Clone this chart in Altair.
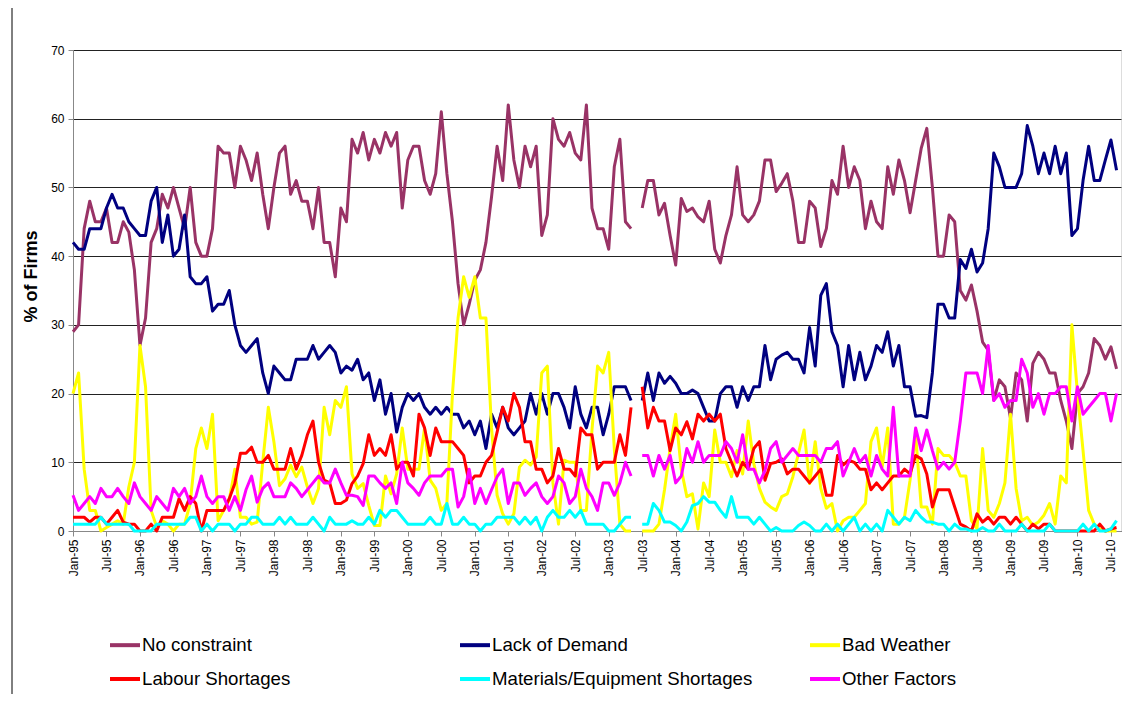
import json
import altair as alt
import pandas as pd

NAMES = ["No constraint", "Lack of Demand", "Bad Weather",
         "Labour Shortages", "Materials/Equipment Shortages", "Other Factors"]
COLORS = ["#993366", "#000080", "#FFFF00", "#FF0000", "#00FFFF", "#FF00FF"]

TICK_LABELS = ["Jan-95", "Jul-95", "Jan-96", "Jul-96", "Jan-97", "Jul-97", "Jan-98", "Jul-98",
               "Jan-99", "Jul-99", "Jan-00", "Jul-00", "Jan-01", "Jul-01", "Jan-02", "Jul-02",
               "Jan-03", "Jul-03", "Jan-04", "Jul-04", "Jan-05", "Jul-05", "Jan-06", "Jul-06",
               "Jan-07", "Jul-07", "Jan-08", "Jul-08", "Jan-09", "Jul-09", "Jan-10", "Jul-10"]

MONTH_NAMES = ["Jan", "Feb", "Mar", "Apr", "May", "Jun", "Jul", "Aug", "Sep", "Oct", "Nov", "Dec"]
MONTHS = [f"{MONTH_NAMES[i % 12]}-{(95 + i // 12) % 100:02d}" for i in range(188)]  # Jan-95 .. Aug-10

N = None  # Jun-03 not surveyed

no_constraint = [
    29, 30, 44, 48, 45, 45, 47, 42, 42, 45, 43.5, 38, 27, 31, 42, 44, 49, 47, 50, 47, 44, 50, 42,
    40, 40, 44, 56, 55, 55, 50, 56, 54, 51, 55, 49, 44, 50, 55, 56, 49, 51, 48, 48, 44, 50, 42,
    42, 37, 47, 45, 57, 55, 58, 54, 57, 55, 58, 56, 58, 47, 54, 56, 56, 51, 49, 52, 61, 52, 45, 36,
    30, 33, 36.5, 38, 42, 48.6, 56, 51, 62, 54, 50, 56, 53, 56, 43, 46, 60, 57, 56, 58, 55, 54, 62,
    47, 44, 44, 41, 53, 57, 45, 44, N,
    47, 51, 51, 46, 47.7, 43, 38.7, 48.4, 46.5, 47, 45.7, 45, 48, 41,
    39, 43, 46, 53, 46, 45, 46, 48, 54, 54, 49.4, 50.6, 52, 48, 42, 42, 48, 47, 41.4, 44, 51, 49, 56, 50,
    53, 51, 44, 48, 45, 44, 53, 49, 54, 51, 46.3, 51, 55.7, 58.6, 50, 40, 40, 46, 45, 35, 33.6, 35.8, 32,
    27.5, 26.3, 19, 22, 21, 16.4, 23, 22, 16, 24.4, 26, 25, 23, 23, 19, 16, 12, 20, 21, 23, 28, 27, 25, 26.8, 23.6,
]
lack_of_demand = [
    42, 41, 41, 44, 44, 44, 47, 49, 47, 47, 45, 44, 43, 43, 48, 50, 42, 46, 40, 41, 46, 37, 36,
    36, 37, 32, 33, 33, 35, 30, 27, 26, 27, 28, 23, 20, 24, 23, 22, 22, 25, 25, 25, 27, 25, 26,
    27, 26, 23, 24, 23.4, 25, 22, 23, 19, 22, 17, 20, 14.4, 18, 20, 19, 20, 18, 17, 18, 17, 18, 17, 17,
    15, 16, 14, 16, 12, 17, 15, 18, 15, 14, 15, 16, 20, 17, 20, 17, 20, 20, 18, 15, 21, 17, 15,
    18, 18, 14, 17, 21, 21, 21, 19, N,
    19, 23, 19, 23, 21.5, 22.5, 21.5, 20, 20, 20.5, 20, 18, 16, 16,
    20, 21, 21, 18, 21, 19, 21, 21, 27, 22, 25, 25.6, 26, 25, 25, 23, 29.6, 24, 34.3, 36, 29, 27, 21, 27,
    22, 26, 22, 24, 27, 26, 29, 24, 27, 21, 21, 16.7, 16.8, 16.5, 23, 33, 33, 31, 31, 39.5, 38.2, 41, 37.7,
    39, 44, 55, 53, 50, 50, 50, 52, 59, 56, 52, 55, 52, 56, 52, 55, 43, 44, 51, 56, 51, 51, 54, 56.9, 52.5,
]
bad_weather = [
    20, 23, 9, 3, 3, 0, 0.5, 1, 1.5, 1, 6.4, 10, 27, 21, 3, 0.6, 1.5, 1, 0, 1, 1, 4, 12,
    15, 12, 17, 1.5, 3, 4.5, 9, 2, 2, 1, 1.3, 10, 18, 13, 6.6, 7.6, 9.6, 7.9, 9.3, 6.4, 4, 6.2, 18,
    14, 19, 18, 21, 8.3, 6.2, 6.9, 3.7, 0.8, 0.8, 8, 5.4, 8.3, 15, 9, 9, 9, 15, 7.4, 6.2, 3, 4, 20, 31,
    37, 34, 37, 31, 31, 15, 5.2, 2.5, 1, 2.5, 9.3, 10.3, 9.6, 10.8, 23, 24, 7, 1, 10.3, 10, 10, 3, 3,
    14.7, 24, 23, 26, 12, 1, 0, 0, N,
    0, 0, 0, 1, 6, 12, 17, 9, 5, 5.4, 0.3, 7, 5, 14.7,
    10, 10, 7.9, 11.7, 8.3, 16, 9.8, 6.2, 4.2, 3.5, 3, 5, 5.4, 7.9, 11.3, 14.7, 6.9, 13, 6.2, 3.3, 4, 0, 1.5, 2,
    2, 3, 4, 13, 15, 9.3, 15, 1, 1, 2, 7.4, 14, 3.5, 3.5, 1, 12, 11, 11, 10, 8, 8, 1.5, 0.3,
    12, 3, 2, 4, 7, 17, 6.2, 1.5, 2, 0.8, 1.3, 2.3, 4, 1, 8, 7, 30, 20, 11.7, 3, 1, 0.3, 0, 0, 0,
]
labour_shortages = [
    2, 2, 2, 1.3, 2, 2, 1, 2, 3, 1.3, 1, 1, 0, 0, 1, 0, 2, 2, 2, 4.7, 3, 5, 4,
    0, 3, 3, 3, 3, 4.7, 6.9, 11.3, 11.3, 12.2, 10, 10, 11, 9, 9, 9, 12, 9, 11, 14, 16, 10, 7.4,
    7, 4, 4, 4.5, 6.9, 8, 9.8, 14, 11, 12, 11, 14, 9, 10, 10, 8, 17, 15, 11, 15, 13, 13, 13, 12,
    11, 7, 8, 8, 10, 11, 14.4, 18, 16, 20, 18, 13, 13, 9, 9, 7, 8, 12, 9, 9, 8, 15, 14,
    14, 9, 10, 10, 10, 14, 11, 18, N,
    21, 15, 18, 16, 16, 11.7, 15, 14, 15.9, 13.4, 17, 16, 17, 16,
    17, 12, 10, 8, 10, 9, 12, 13, 7.4, 9.8, 10, 10.5, 8.3, 9, 9, 8, 7, 8, 9, 5.2, 5.2, 11, 9.6, 10.3,
    10, 9, 9, 6, 7, 6, 7, 8, 8, 9, 8.3, 11, 10.5, 8.3, 3.5, 6, 6, 6, 3.5, 1, 0.6, 0, 2.5,
    1.3, 2, 1, 2, 2, 1, 2, 1, 0, 1, 0.3, 1, 1, 0, 0, 0, 0, 0, 0, 0, 0, 1, 0, 0.3, 0.5,
]
materials_shortages = [
    1, 1, 1, 1, 1, 2, 1, 1, 1, 1, 1, 0, 0, 0, 0, 1, 1, 1, 1, 1, 1, 2, 2,
    0, 1, 0, 1, 1, 1, 0, 1, 1, 2, 2, 1, 1, 1, 2, 1, 2, 1, 1, 1, 2, 1, 0,
    2, 1, 1, 1, 1.5, 1, 1, 2, 1, 3, 2, 3, 3, 2, 1, 1, 1, 1, 2, 1, 1, 4, 1, 1,
    2, 1, 1, 0, 1, 1, 2, 2, 2, 2, 1, 2, 1, 2, 0, 2, 3, 2, 2, 3, 2, 3, 1,
    1, 1, 1, 0, 0, 1, 2, 2, N,
    1, 1, 4, 3, 1.3, 1.3, 0.8, 0, 1.3, 3.7, 4, 5, 4.2, 4.2,
    3, 2, 5, 2, 2, 2, 1, 2, 1, 0, 0.5, 0, 0, 0, 0.8, 1.3, 0.8, 0, 0, 1, 0, 1, 0, 1,
    2, 0, 1, 0, 1, 0, 3, 2, 1, 2, 1.5, 3, 2, 1.3, 1.3, 1, 1, 0, 1, 0.3, 0.3, 0, 0,
    0.5, 0, 0, 1, 0, 0, 0, 1, 0, 0, 0, 0, 1, 0, 0, 0, 0, 0, 1, 0, 1, 0, 0, 0.3, 1.5,
]
other_factors = [
    5.2, 3, 4, 5, 4, 6.2, 5, 5, 6.2, 5, 4, 7, 5, 4, 3, 5, 4, 3, 6.2, 5, 6.2, 4, 5,
    8, 5, 4, 5, 5, 3, 5, 3, 6, 8, 4.2, 6.2, 7, 5, 5, 5, 7, 6.2, 5, 6, 7, 8, 7,
    7, 9, 7, 5.2, 5.2, 5, 3.7, 8, 8, 7, 6.2, 7, 4, 10, 7, 6.2, 5.2, 7, 8, 8, 8, 9, 9, 3.5,
    5, 9, 4, 6.2, 4, 6, 7.9, 9, 4, 7, 7, 5.2, 6.2, 7, 5, 4, 5, 8, 7, 4, 5, 9, 6.2,
    5, 3, 7, 7, 5.2, 7, 10, 8, N,
    11, 11, 8, 11, 9, 11, 7, 8, 12, 10, 13, 10, 11, 11,
    11, 13, 12, 10, 14, 9, 9, 7, 8.8, 12, 13, 10, 11, 12, 11, 11, 11, 11, 10, 12, 12, 13, 8, 10,
    12, 10, 11, 8, 11, 9, 8, 18, 8, 8, 8, 15, 11.7, 14.7, 11.7, 9, 10, 9, 10, 16, 23, 23, 23,
    20, 27, 19, 20, 18, 19, 19, 25, 23, 18, 20, 17, 20, 20, 21, 21, 16, 21, 17, 18, 19, 20, 20, 16, 20,
]

SERIES = [no_constraint, lack_of_demand, bad_weather,
          labour_shortages, materials_shortages, other_factors]

rows = []
for name, vals in zip(NAMES, SERIES):
    seg = 0
    for i, v in enumerate(vals):
        if v is None:
            seg += 1
            continue
        rows.append({"series": name, "idx": i, "month": MONTHS[i], "value": v, "seg": seg})
df = pd.DataFrame(rows)

FONT = "Liberation Sans"
label_expr = json.dumps(TICK_LABELS) + "[round(datum.value / 6)]"

x_enc = alt.X("idx:Q",
              scale=alt.Scale(domain=[0, 187.8], nice=False, zero=False),
              axis=alt.Axis(values=list(range(0, 187, 6)), labelExpr=label_expr,
                            labelAngle=-90, title=None, grid=False, tickSize=5,
                            labelPadding=3, labelFontSize=12))
y_enc = alt.Y("value:Q",
              scale=alt.Scale(domain=[0, 70], nice=False),
              axis=alt.Axis(values=list(range(0, 71, 10)), title="% of Firms",
                            titleFontSize=18, titleFontWeight="bold", titleFont=FONT,
                            titleX=-42, titleY=226, titleAngle=-90, titleAlign="center",
                            titleBaseline="middle", titleColor="black",
                            tickSize=5, labelPadding=4, labelFontSize=12,
                            grid=True, gridColor="#222222", gridWidth=1))
color_enc = alt.Color("series:N",
                      scale=alt.Scale(domain=NAMES, range=COLORS),
                      legend=alt.Legend(title=None, orient="none", legendX=35, legendY=578,
                                        direction="horizontal", columns=3, gridAlign="all",
                                        columnPadding=49, rowPadding=7, symbolType="stroke",
                                        symbolSize=900, symbolStrokeWidth=4, labelFont=FONT,
                                        labelFontSize=18.67, labelColor="black", labelLimit=400,
                                        labelOffset=0))

layers = []
for name in NAMES:
    layers.append(
        alt.Chart(df).transform_filter(alt.datum.series == name)
        .mark_line(strokeWidth=3, strokeJoin="round")
        .encode(x=x_enc, y=y_enc, color=color_enc, detail="seg:N")
    )

border = alt.Chart(pd.DataFrame({"a": [0]})).mark_rule(color="black", strokeWidth=1).encode(
    x=alt.value(-61), y=alt.value(-42), y2=alt.value(644))

chart = alt.layer(*layers, border).properties(
    width=1048, height=481,
    padding={"left": 65, "top": 42, "right": 8, "bottom": 163},
    autosize=alt.AutoSizeParams(type="none"),
).configure_view(stroke="#808080", strokeWidth=1).configure_axis(
    labelFont=FONT, labelColor="black", domainColor="black", tickColor="black",
    domainWidth=1, tickWidth=1,
).configure(background="white")

chart.save("out.html", embed_options={"renderer": "svg", "actions": False})
